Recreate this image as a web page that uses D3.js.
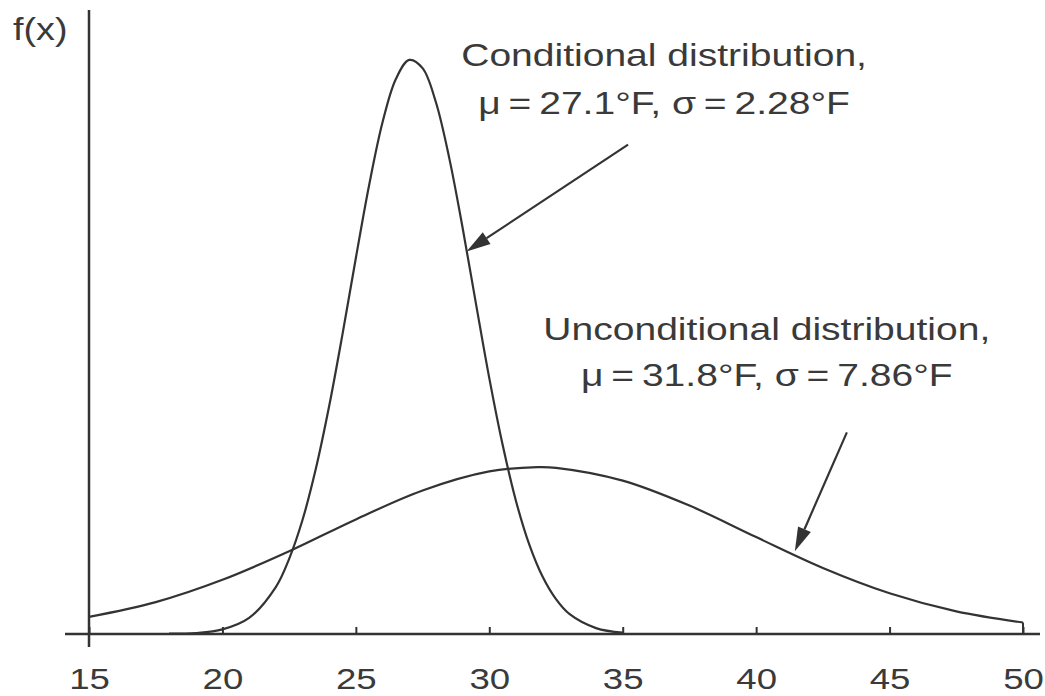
<!DOCTYPE html>
<html>
<head>
<meta charset="utf-8">
<script src="https://cdn.jsdelivr.net/npm/d3@7"></script>
<style>
  body { margin: 0; background: #fff; }
  text { font-family: "Liberation Sans", Arial, sans-serif; fill: #3a3a3a; }
</style>
</head>
<body>
<div id="chart"></div>
<script>
// values (x in °F, f(x) as density)
var condX = [18, 19, 20, 21, 22, 22.5, 23, 23.5, 24, 24.5, 25, 25.5, 26, 26.5, 27, 27.5, 28, 28.5, 29, 29.5, 30, 30.5, 31, 31.5, 32, 32.5, 33, 34, 35];
var condY = [0.0001, 0.0003, 0.0014, 0.0049, 0.0143, 0.0229, 0.0347, 0.0503, 0.0694, 0.0913, 0.1145, 0.1368, 0.1558, 0.169, 0.1748, 0.1723, 0.1619, 0.1449, 0.1237, 0.1006, 0.0779, 0.0576, 0.0405, 0.0272, 0.0174, 0.0106, 0.0061, 0.0018, 0.0004];

var uncondX = [15, 17.5, 20, 22.5, 25, 27.5, 30, 31.8, 32.5, 35, 37.5, 40, 42.5, 45, 47.5, 50];
var uncondY = [0.0052, 0.0097, 0.0165, 0.0252, 0.0349, 0.0437, 0.0495, 0.0508, 0.0506, 0.0467, 0.0391, 0.0295, 0.0201, 0.0124, 0.0069, 0.0035];

var tickValues = [15, 20, 25, 30, 35, 40, 45, 50];

var condLabel = ["Conditional distribution,", "\u03bc\u2009=\u200927.1°F, \u03c3\u2009=\u20092.28°F"];
var uncondLabel = ["Unconditional distribution,", "\u03bc\u2009=\u200931.8°F, \u03c3\u2009=\u20097.86°F"];

// arrows: from label toward curve, in data units
var arrows = [
    { x1: 35.2, y1: 0.149, x2: 29.15, y2: 0.1165 },
    { x1: 43.4, y1: 0.0614, x2: 41.45, y2: 0.0252 }
];

var svgWidth = 1045, svgHeight = 696;
var stretch = 1.22;
var ink = "#333";

var svg = d3.select("#chart").append("svg").attr("width", svgWidth).attr("height", svgHeight);

var x = d3.scaleLinear().domain([15, 50]).range([89, 1023]);
var y = d3.scaleLinear().domain([0, 0.19]).range([634, 10]);

// y axis (plain vertical line, no ticks)
svg.append("line")
    .attr("x1", x(15)).attr("x2", x(15))
    .attr("y1", y(0.19)).attr("y2", y(0) + 13)
    .attr("stroke", ink).attr("stroke-width", 2.5);

// x axis, ticks pointing up
var xAxis = d3.axisBottom(x).tickValues(tickValues).tickSizeInner(-7).tickSizeOuter(0).tickPadding(34);
var gx = svg.append("g").attr("transform", "translate(0," + y(0) + ")").call(xAxis);
gx.select(".domain").remove();
gx.selectAll(".tick line").attr("stroke", ink).attr("stroke-width", 2);
gx.selectAll(".tick text")
    .attr("font-size", 30)
    .attr("transform", "scale(" + stretch + ",1)")
    .style("fill", "#3a3a3a");
svg.append("line")
    .attr("x1", 65).attr("x2", 1040)
    .attr("y1", y(0)).attr("y2", y(0))
    .attr("stroke", ink).attr("stroke-width", 2.5);

// f(x) label
svg.append("text")
    .attr("transform", "translate(13,40) scale(" + stretch + ",1)")
    .attr("font-size", 31)
    .text("f(x)");

var line = d3.line()
    .x(function (d) { return x(d[0]); })
    .y(function (d) { return y(d[1]); })
    .curve(d3.curveCatmullRom.alpha(0.5));

var condData = condX.map(function (v, i) { return [v, condY[i]]; });
var uncondData = uncondX.map(function (v, i) { return [v, uncondY[i]]; });

svg.append("path").datum(condData)
    .attr("d", line)
    .attr("fill", "none").attr("stroke", ink).attr("stroke-width", 2.2);

svg.append("path").datum(uncondData)
    .attr("d", line)
    .attr("fill", "none").attr("stroke", ink).attr("stroke-width", 2.2);

// drop from last unconditional point to the axis
var last = uncondData[uncondData.length - 1];
svg.append("line")
    .attr("x1", x(last[0])).attr("x2", x(last[0]))
    .attr("y1", y(last[1])).attr("y2", y(0))
    .attr("stroke", ink).attr("stroke-width", 2);

// arrows
arrows.forEach(function (a) {
    var sx = x(a.x1), sy = y(a.y1), tx = x(a.x2), ty = y(a.y2);
    var ang = Math.atan2(ty - sy, tx - sx);
    var len = 24, half = 7;
    var bx = tx - len * Math.cos(ang), by = ty - len * Math.sin(ang);
    svg.append("line")
        .attr("x1", sx).attr("y1", sy).attr("x2", bx).attr("y2", by)
        .attr("stroke", ink).attr("stroke-width", 2.2);
    var pts = [
        [tx, ty],
        [bx + half * Math.sin(ang), by - half * Math.cos(ang)],
        [bx - half * Math.sin(ang), by + half * Math.cos(ang)]
    ];
    svg.append("polygon")
        .attr("points", pts.map(function (p) { return p.join(","); }).join(" "))
        .attr("fill", ink);
});

// annotation text
function addLabel(lines, cx, baselines) {
    lines.forEach(function (t, i) {
        svg.append("text")
            .attr("transform", "translate(" + x(cx) + "," + y(baselines[i]) + ") scale(" + stretch + ",1)")
            .attr("text-anchor", "middle")
            .attr("font-size", 32)
            .text(t);
    });
}
addLabel(condLabel, 36.55, [0.1728, 0.1584]);
addLabel(uncondLabel, 40.4, [0.0894, 0.0756]);
</script>
</body>
</html>
